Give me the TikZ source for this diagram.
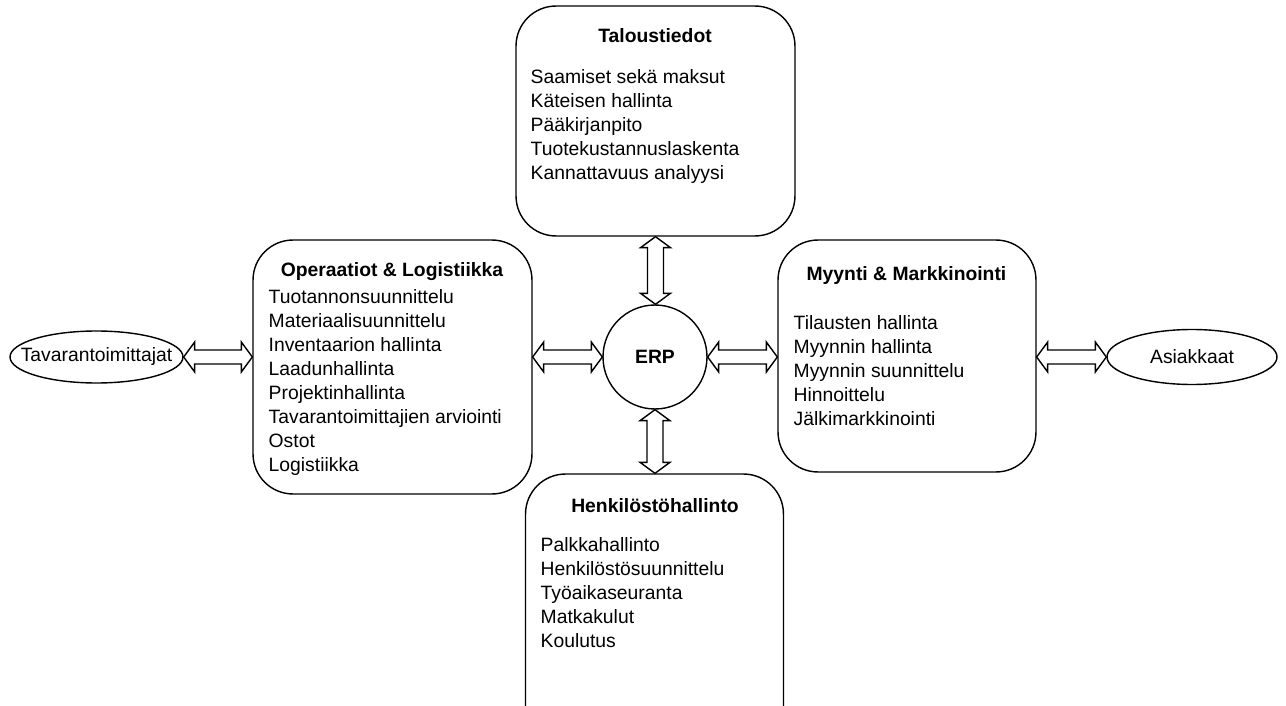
\documentclass[tikz,border=0pt]{standalone}
\usepackage{fontspec}
\setmainfont{Liberation Sans}
\usetikzlibrary{calc}

\begin{document}
\begin{tikzpicture}[x=0.02cm,y=-0.02cm,line width=0.8pt,
  modbox/.style={draw,rounded corners=0.8cm,inner sep=0},
  partner/.style={inner sep=0,font=\fontsize{11}{13.66}\selectfont},
  hub/.style={draw,circle,inner sep=0,minimum size=2.08cm,font=\bfseries\fontsize{11}{13.66}\selectfont},
  boxtitle/.style={anchor=base,inner sep=0,font=\bfseries\fontsize{11}{13.66}\selectfont},
  boxlist/.style={anchor=north west,inner sep=0,align=left,font=\fontsize{11}{13.66}\selectfont},
  hdarrow/.style={fill=white,to path={let \p1=(\tikztostart), \p2=(\tikztotarget) in
    (\p1) -- ($(\p1)+(11,-15)$) -- ($(\p1)+(11,-7)$) -- ($(\x2,\y1)+(-11,-7)$) -- ($(\x2,\y1)+(-11,-15)$)
    -- (\x2,\y1) -- ($(\x2,\y1)+(-11,15)$) -- ($(\x2,\y1)+(-11,7)$) -- ($(\p1)+(11,7)$) -- ($(\p1)+(11,15)$) -- cycle}},
  vdarrow/.style={fill=white,to path={let \p1=(\tikztostart), \p2=(\tikztotarget) in
    (\p1) -- ($(\p1)+(-15,11)$) -- ($(\p1)+(-8,11)$) -- ($(\x1,\y2)+(-8,-11)$) -- ($(\x1,\y2)+(-15,-11)$)
    -- (\x1,\y2) -- ($(\x1,\y2)+(15,-11)$) -- ($(\x1,\y2)+(8,-11)$) -- ($(\p1)+(8,11)$) -- ($(\p1)+(15,11)$) -- cycle}}]

\clip (0,0) rectangle (1286,706);

% ERP and partners
\node[hub] (erp) at (655,357) {ERP};
\node[partner,minimum width=3.46cm,minimum height=1.04cm] (tava) at (96.5,357) {Tavarantoimittajat};
\node[partner,minimum width=3.4cm,minimum height=1.1cm] (asiak) at (1192,357) {Asiakkaat};
\draw (tava.center) ellipse [x radius=1.73cm,y radius=0.52cm];
\draw (asiak.center) ellipse [x radius=1.7cm,y radius=0.55cm];

% Modules
\node[modbox,minimum width=5.58cm,minimum height=4.6cm] (talous) at (655.5,121) {};
\node[modbox,minimum width=5.58cm,minimum height=5.08cm] (oper) at (392.5,367) {};
\node[modbox,minimum width=5.16cm,minimum height=4.64cm] (myynti) at (907,356) {};
\node[modbox,minimum width=5.16cm,minimum height=5.44cm] (henk) at (654.5,610) {};

\node[boxtitle] (talousT) at (655,43) {Taloustiedot};
\node[boxlist] (talousL) at (530,69) {Saamiset sekä maksut\\Käteisen hallinta\\Pääkirjanpito\\Tuotekustannuslaskenta\\Kannattavuus analyysi};

\node[boxtitle] (operT) at (392,276) {Operaatiot \& Logistiikka};
\node[boxlist] (operL) at (268,289) {Tuotannonsuunnittelu\\Materiaalisuunnittelu\\Inventaarion hallinta\\Laadunhallinta\\Projektinhallinta\\Tavarantoimittajien arviointi\\Ostot\\Logistiikka};

\node[boxtitle] (myyntiT) at (906.5,280) {Myynti \& Markkinointi};
\node[boxlist] (myyntiL) at (793,315) {Tilausten hallinta\\Myynnin hallinta\\Myynnin suunnittelu\\Hinnoittelu\\Jälkimarkkinointi};

\node[boxtitle] (henkT) at (655,512) {Henkilöstöhallinto};
\node[boxlist] (henkL) at (540,537) {Palkkahallinto\\Henkilöstösuunnittelu\\Työaikaseuranta\\Matkakulut\\Koulutus};

% Connections
\draw (tava.east) to[hdarrow] (oper.west |- tava);
\draw (oper.east |- erp) to[hdarrow] (erp.west);
\draw (erp.east) to[hdarrow] (myynti.west |- erp);
\draw (myynti.east |- asiak) to[hdarrow] (asiak.west);
\draw (talous.south) to[vdarrow] (erp.north);
\draw (erp.south) to[vdarrow] (henk.north);

\end{tikzpicture}
\end{document}
